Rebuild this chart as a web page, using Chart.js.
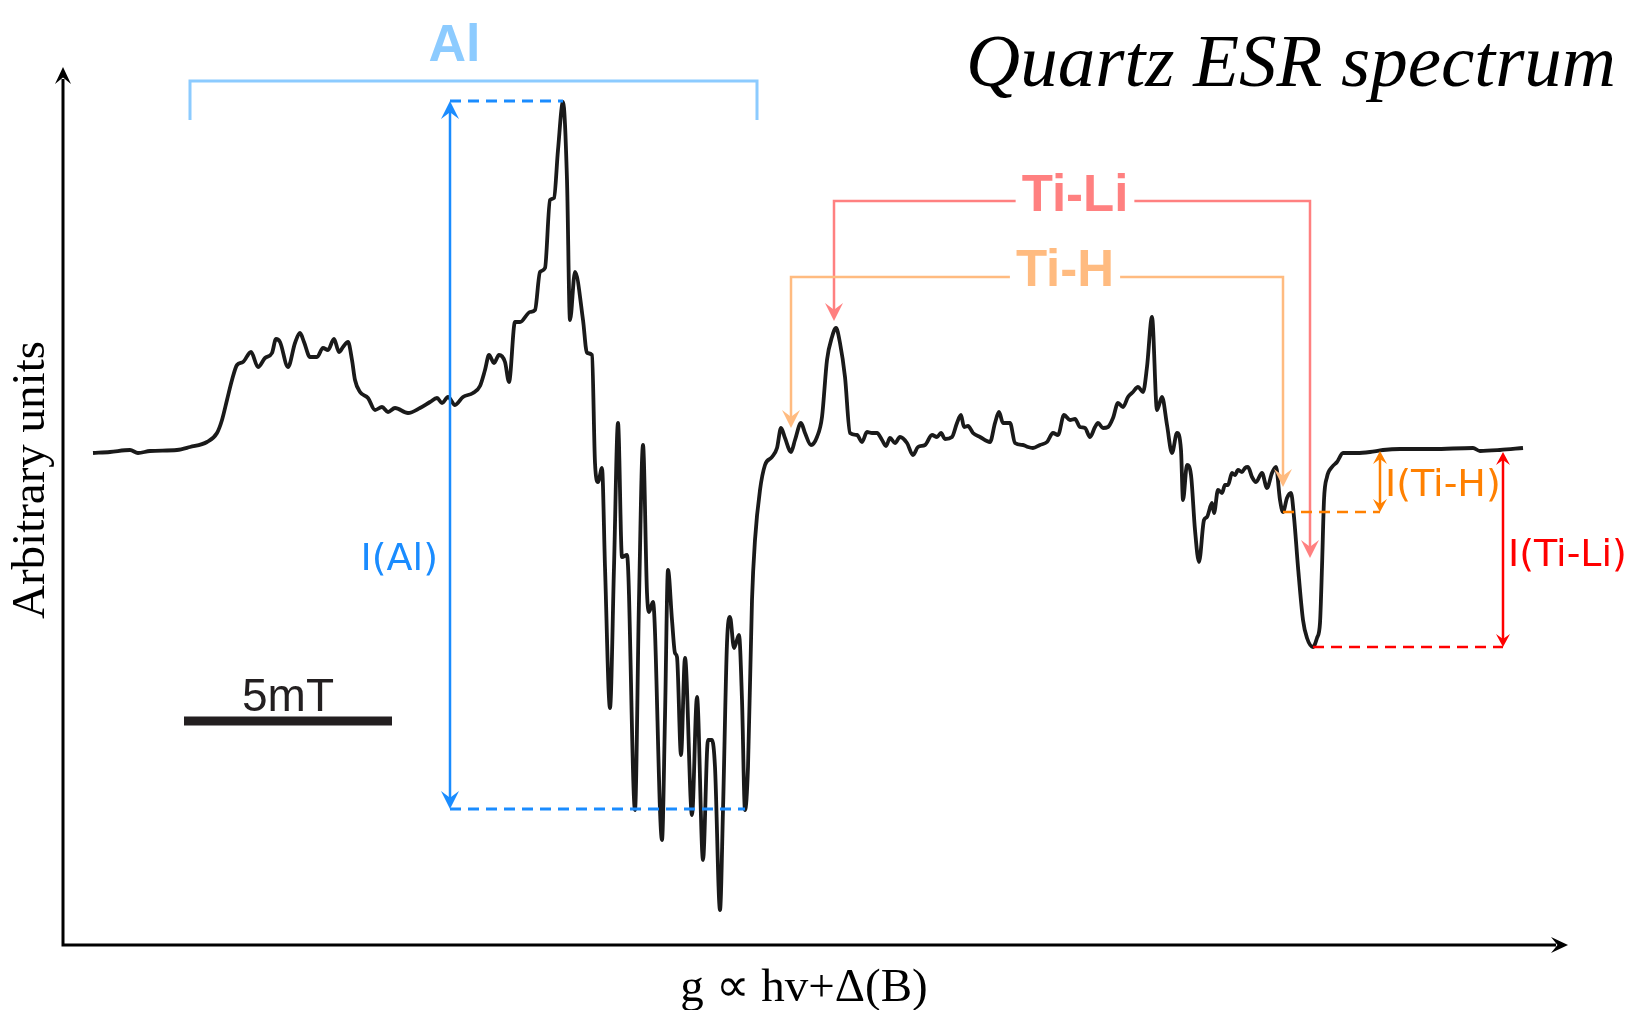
<!DOCTYPE html>
<html>
<head>
<meta charset="utf-8">
<title>Quartz ESR spectrum</title>
<script src="https://cdn.jsdelivr.net/npm/chart.js@4.4.0/dist/chart.umd.min.js"></script>
<style>
    html, body { margin: 0; padding: 0; background: #fff; }
    canvas { display: block; }
</style>
</head>
<body>
<canvas id="chart" width="1636" height="1010"></canvas>
<script>
// spectrum: field position (arbitrary) and signal height (arbitrary units)
const field = [
    30, 47, 67, 75, 87, 114, 127, 144, 154, 159,
    164, 169, 174, 180, 188, 195, 202, 209, 213, 217,
    225, 232, 237, 241, 247, 254, 260, 265, 271, 276,
    280, 285, 289, 292, 297, 305, 312, 319, 325, 332,
    345, 357, 367, 374, 379, 385, 392, 400, 410, 417,
    422, 426, 431, 436, 442, 446, 452, 457, 467, 472,
    477, 482, 487, 491, 495, 500, 504, 507, 512, 520,
    524, 529, 532, 535, 539, 542, 547, 551, 555, 559,
    564, 572, 576, 580, 584, 586, 590, 599, 602, 605,
    609, 612, 614, 618, 622, 629, 634, 640, 645, 649,
    652, 657, 660, 664, 667, 671, 676, 679, 682, 685,
    689, 692, 697, 702, 709, 714, 718, 722, 728, 732,
    738, 742, 748, 754, 759, 764, 769, 773, 777, 782,
    787, 794, 799, 804, 809, 814, 819, 823, 827, 832,
    837, 844, 850, 855, 862, 869, 874, 878, 882, 889,
    894, 898, 901, 905, 910, 917, 927, 932, 936, 940,
    947, 952, 960, 965, 970, 977, 984, 990, 995, 1001,
    1007, 1012, 1017, 1022, 1027, 1032, 1035, 1040, 1045, 1050,
    1055, 1060, 1065, 1070, 1075, 1080, 1084, 1089, 1094, 1099,
    1104, 1109, 1114, 1118, 1120, 1124, 1128, 1132, 1136, 1141,
    1144, 1149, 1151, 1155, 1159, 1162, 1165, 1169, 1172, 1175,
    1179, 1182, 1185, 1189, 1193, 1199, 1204, 1209, 1213, 1217,
    1220, 1224, 1228, 1231, 1235, 1240, 1244, 1250, 1254, 1257,
    1259, 1261, 1264, 1269, 1274, 1280, 1294, 1307, 1320, 1337,
    1370, 1410, 1417, 1437, 1460
];
const intensity = [
    492, 493, 495, 492, 494, 495, 498, 503, 512, 525,
    545, 565, 580, 583, 593, 578, 587, 592, 606, 603,
    578, 602, 612, 603, 588, 588, 597, 595, 606, 593,
    598, 603, 585, 565, 553, 547, 535, 538, 533, 537,
    532, 537, 543, 547, 542, 548, 540, 548, 552, 559,
    575, 590, 582, 590, 583, 563, 623, 623, 633, 635,
    673, 677, 745, 747, 795, 843, 765, 625, 673, 625,
    592, 590, 482, 463, 477, 378, 237, 378, 522, 388,
    390, 135, 345, 500, 352, 333, 343, 105, 228, 375,
    325, 292, 288, 190, 287, 130, 248, 85, 205, 205,
    178, 35, 135, 302, 328, 297, 310, 245, 135, 178,
    345, 405, 455, 480, 488, 497, 517, 507, 493, 505,
    522, 512, 500, 508, 528, 585, 608, 617, 602, 568,
    512, 510, 503, 513, 512, 512, 505, 499, 507, 502,
    508, 502, 490, 498, 500, 510, 508, 512, 506, 508,
    522, 530, 518, 519, 512, 508, 503, 522, 533, 522,
    522, 502, 500, 498, 497, 500, 503, 512, 510, 530,
    525, 526, 518, 517, 508, 518, 522, 517, 518, 527,
    542, 538, 548, 553, 558, 553, 578, 628, 535, 548,
    520, 492, 512, 495, 445, 480, 470, 415, 383, 425,
    428, 442, 432, 455, 452, 460, 460, 472, 470, 475,
    473, 477, 478, 468, 463, 472, 457, 472, 478, 445,
    433, 447, 452, 428, 378, 325, 307, 298, 307, 322,
    378, 445, 468, 478, 483, 492, 492, 493, 495, 496,
    496, 497, 494, 495, 497
];

const fieldMax = 1505;
const intensityMax = 878;

// bracket marking the Al signal: [left, right], bar level, leg end
const alSpan = [127, 694];
const alLevel = [864, 825];

// I(Al): arrow x, [top, bottom], the peak and trough it measures
const alArrowX = 387;
const alRange = [844, 136];
const alPeakX = 500;
const alTroughX = 682;

// Ti-Li and Ti-H brackets: [left leg x, right leg x], bar level, [left tip, right tip]
const tiLiLegs = [771, 1247];
const tiLiLevel = 744;
const tiLiTips = [624, 387];
const tiHLegs = [728, 1220];
const tiHLevel = 668;
const tiHTips = [517, 458];

// intensity read-outs: arrow x, [top, bottom], dashed line start
const tiHArrowX = 1317;
const tiHRange = [494, 433];
const tiLiArrowX = 1440;
const tiLiRange = [493, 298];
const tiLiTroughX = 1250;

// 5 mT scale bar
const scaleBar = [121, 329];
const scaleBarLevel = 224;

const titleText = 'Quartz ESR spectrum';
const xTitle = 'g \u221D hv+\u0394(B)';
const yTitle = 'Arbitrary units';

function arrowHead(ctx, x, y, angle, len, half, color) {
    ctx.save();
    ctx.translate(x, y);
    ctx.rotate(angle);
    ctx.fillStyle = color;
    ctx.beginPath();
    ctx.moveTo(0, 0);
    ctx.lineTo(-len, -half);
    ctx.lineTo(-len * 0.62, 0);
    ctx.lineTo(-len, half);
    ctx.closePath();
    ctx.fill();
    ctx.restore();
}

function polyline(ctx, pts, color, width, dash) {
    ctx.save();
    ctx.strokeStyle = color;
    ctx.lineWidth = width;
    ctx.setLineDash(dash || []);
    ctx.lineJoin = 'miter';
    ctx.beginPath();
    pts.forEach((p, i) => (i ? ctx.lineTo(p[0], p[1]) : ctx.moveTo(p[0], p[1])));
    ctx.stroke();
    ctx.restore();
}

function label(ctx, text, x, y, font, color, align, box) {
    ctx.save();
    ctx.font = font;
    ctx.textAlign = align;
    ctx.textBaseline = 'middle';
    if (box) {
        const w = ctx.measureText(text).width + 12;
        ctx.fillStyle = '#fff';
        ctx.fillRect(x - w / 2, y - 24, w, 48);
    }
    ctx.fillStyle = color;
    ctx.fillText(text, x, y);
    ctx.restore();
}

const UP = -Math.PI / 2;
const DOWN = Math.PI / 2;

const decorations = {
    id: 'decorations',
    beforeDatasetsDraw(chart) {
        const { ctx, chartArea, scales: { x, y } } = chart;
        const x0 = x.getPixelForValue(0);
        const y0 = y.getPixelForValue(0);
        const xEnd = x.getPixelForValue(fieldMax);
        const yEnd = y.getPixelForValue(intensityMax);

        // axes with arrow heads
        polyline(ctx, [[x0, yEnd + 12], [x0, y0], [xEnd - 12, y0]], '#000', 3);
        arrowHead(ctx, x0, yEnd, UP, 17, 8, '#000');
        arrowHead(ctx, xEnd, y0, 0, 17, 8, '#000');

        ctx.save();
        ctx.fillStyle = '#000';
        ctx.font = 'italic 75px "Liberation Serif"';
        ctx.textAlign = 'right';
        ctx.textBaseline = 'alphabetic';
        ctx.fillText(titleText, chartArea.right + 48, 86);

        ctx.font = '47px "Liberation Serif"';
        ctx.textAlign = 'center';
        ctx.fillText(xTitle, 804, chartArea.bottom + 56);

        ctx.translate(44, 480);
        ctx.rotate(-Math.PI / 2);
        ctx.fillText(yTitle, 0, 0);
        ctx.restore();
    },
    afterDatasetsDraw(chart) {
        const { ctx, scales: { x, y } } = chart;
        const px = v => x.getPixelForValue(v);
        const py = v => y.getPixelForValue(v);
        const dash = [11, 7];
        const readFont = '38px "DejaVu Sans"';

        // Al bracket
        const alColor = '#8ccbff';
        polyline(ctx, [[px(alSpan[0]), py(alLevel[1])], [px(alSpan[0]), py(alLevel[0])],
            [px(alSpan[1]), py(alLevel[0])], [px(alSpan[1]), py(alLevel[1])]], alColor, 3);
        label(ctx, 'Al', px((alSpan[0] + alSpan[1]) / 2 - 19), py(alLevel[0] + 34), 'bold 52px "Liberation Sans"', alColor, 'center');

        // I(Al)
        const blue = '#1a8cff';
        polyline(ctx, [[px(alArrowX), py(alRange[0])], [px(alPeakX), py(alRange[0])]], blue, 3, dash);
        polyline(ctx, [[px(alArrowX), py(alRange[1])], [px(alTroughX), py(alRange[1])]], blue, 3, dash);
        polyline(ctx, [[px(alArrowX), py(alRange[0]) + 10], [px(alArrowX), py(alRange[1]) - 10]], blue, 2.5);
        arrowHead(ctx, px(alArrowX), py(alRange[0]), UP, 18, 9, blue);
        arrowHead(ctx, px(alArrowX), py(alRange[1]), DOWN, 18, 9, blue);
        label(ctx, 'I(Al)', px(alArrowX - 12), py((alRange[0] + alRange[1]) / 2 - 105), readFont, blue, 'right');

        // Ti-Li bracket
        const tiLiColor = '#ff8080';
        polyline(ctx, [[px(tiLiLegs[0]), py(tiLiTips[0]) - 10], [px(tiLiLegs[0]), py(tiLiLevel)],
            [px(tiLiLegs[1]), py(tiLiLevel)], [px(tiLiLegs[1]), py(tiLiTips[1]) - 10]], tiLiColor, 2.5);
        arrowHead(ctx, px(tiLiLegs[0]), py(tiLiTips[0]), DOWN, 18, 9, tiLiColor);
        arrowHead(ctx, px(tiLiLegs[1]), py(tiLiTips[1]), DOWN, 18, 9, tiLiColor);

        // Ti-H bracket
        const tiHColor = '#ffbb80';
        polyline(ctx, [[px(tiHLegs[0]), py(tiHTips[0]) - 10], [px(tiHLegs[0]), py(tiHLevel)],
            [px(tiHLegs[1]), py(tiHLevel)], [px(tiHLegs[1]), py(tiHTips[1]) - 10]], tiHColor, 2.5);
        arrowHead(ctx, px(tiHLegs[0]), py(tiHTips[0]), DOWN, 18, 9, tiHColor);
        arrowHead(ctx, px(tiHLegs[1]), py(tiHTips[1]), DOWN, 18, 9, tiHColor);

        label(ctx, 'Ti-Li', px(1012), py(tiLiLevel + 4), 'bold 51px "Liberation Sans"', tiLiColor, 'center', true);
        label(ctx, 'Ti-H', px(1002), py(tiHLevel + 5), 'bold 51px "Liberation Sans"', tiHColor, 'center', true);

        // I(Ti-H)
        const orange = '#ff8000';
        polyline(ctx, [[px(tiHLegs[1]), py(tiHRange[1])], [px(tiHArrowX), py(tiHRange[1])]], orange, 2.5, dash);
        polyline(ctx, [[px(tiHArrowX), py(tiHRange[0]) + 8], [px(tiHArrowX), py(tiHRange[1]) - 8]], orange, 2.5);
        arrowHead(ctx, px(tiHArrowX), py(tiHRange[0]), UP, 13, 7, orange);
        arrowHead(ctx, px(tiHArrowX), py(tiHRange[1]), DOWN, 13, 7, orange);
        label(ctx, 'I(Ti-H)', px(tiHArrowX + 5), py(459), readFont, orange, 'left');

        // I(Ti-Li)
        const red = '#ff0000';
        polyline(ctx, [[px(tiLiTroughX), py(tiLiRange[1])], [px(tiLiArrowX), py(tiLiRange[1])]], red, 2.5, dash);
        polyline(ctx, [[px(tiLiArrowX), py(tiLiRange[0]) + 8], [px(tiLiArrowX), py(tiLiRange[1]) - 8]], red, 2.5);
        arrowHead(ctx, px(tiLiArrowX), py(tiLiRange[0]), UP, 13, 7, red);
        arrowHead(ctx, px(tiLiArrowX), py(tiLiRange[1]), DOWN, 13, 7, red);
        label(ctx, 'I(Ti-Li)', px(tiLiArrowX + 5), py(389), readFont, red, 'left');

        // 5 mT scale bar
        polyline(ctx, [[px(scaleBar[0]), py(scaleBarLevel)], [px(scaleBar[1]), py(scaleBarLevel)]], '#231f20', 9);
        ctx.save();
        ctx.font = '46px "Liberation Sans"';
        ctx.fillStyle = '#231f20';
        ctx.textAlign = 'center';
        ctx.textBaseline = 'alphabetic';
        ctx.fillText('5mT', px((scaleBar[0] + scaleBar[1]) / 2), py(scaleBarLevel + 10));
        ctx.restore();
    }
};

new Chart(document.getElementById('chart'), {
    type: 'line',
    data: {
        datasets: [{
            label: 'ESR signal',
            data: field.map((f, i) => ({ x: f, y: intensity[i] })),
            borderColor: '#1a1a1a',
            borderWidth: 3.8,
            pointRadius: 0,
            cubicInterpolationMode: 'monotone',
            fill: false
        }]
    },
    options: {
        responsive: false,
        animation: false,
        devicePixelRatio: 1,
        layout: { padding: { left: 63, right: 68, top: 67, bottom: 65 } },
        scales: {
            x: { type: 'linear', min: 0, max: fieldMax, display: false },
            y: { type: 'linear', min: 0, max: intensityMax, display: false }
        },
        plugins: {
            legend: { display: false },
            tooltip: { enabled: false }
        }
    },
    plugins: [decorations]
});
</script>
</body>
</html>
